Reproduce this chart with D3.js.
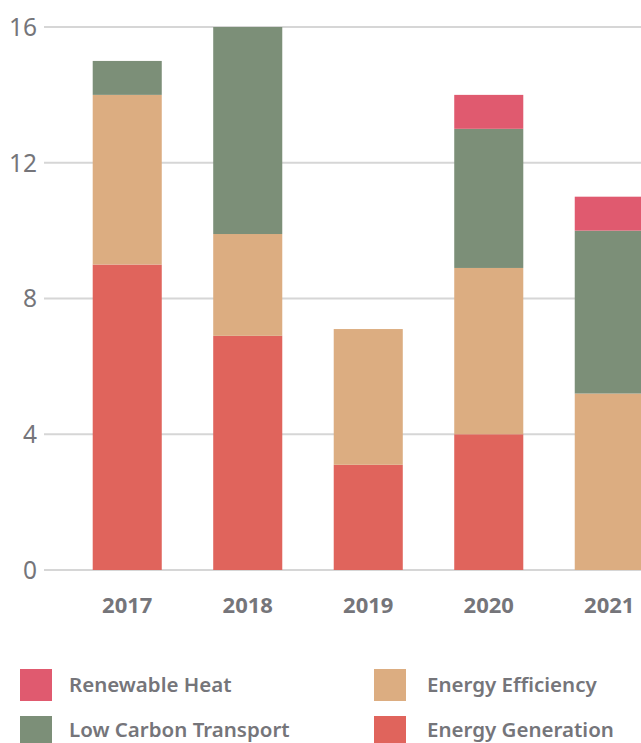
<!DOCTYPE html>
<html><head><meta charset="utf-8">
<script src="https://cdn.jsdelivr.net/npm/d3@7"></script>
<style>html,body{margin:0;padding:0;background:#fff;overflow:hidden}</style>
</head><body>
<svg id="c" width="641" height="743"></svg>
<script>
const years = ["2017","2018","2019","2020","2021"];
const energyGeneration = [9, 6.9, 3.1, 4, 0];
const energyEfficiency = [5, 3, 4, 4.9, 5.2];
const lowCarbonTransport = [1, 6.1, 0, 4.1, 4.8];
const renewableHeat = [0, 0, 0, 1, 1];
const yTicks = [0, 4, 8, 12, 16];
const seriesNames = ["Energy Generation","Energy Efficiency","Low Carbon Transport","Renewable Heat"];
const seriesColors = ["#e0645c","#dcad81","#7c8f78","#e05a6f"];
const legendOrder = ["Renewable Heat","Energy Efficiency","Low Carbon Transport","Energy Generation"];

const rows = years.map((y,i)=>({year:y,
  "Energy Generation":energyGeneration[i],
  "Energy Efficiency":energyEfficiency[i],
  "Low Carbon Transport":lowCarbonTransport[i],
  "Renewable Heat":renewableHeat[i]}));
const stack = d3.stack().keys(seriesNames)(rows);
const color = d3.scaleOrdinal().domain(seriesNames).range(seriesColors);

const svg = d3.select("#c");
const font = "'Noto Sans', sans-serif";
const gray = "#75757a";

const y = d3.scaleLinear().domain([0,16]).range([570,27]);
const x = d3.scaleBand().domain(years).range([44.5,692]).paddingInner(0.427).paddingOuter(0.4);

// grid
svg.append("g").selectAll("line").data(yTicks).join("line")
  .attr("x1",44).attr("x2",641).attr("y1",d=>y(d)).attr("y2",d=>y(d))
  .attr("stroke","#d6d6d6").attr("stroke-width",2);
svg.append("g").selectAll("text").data(yTicks).join("text")
  .attr("x",37).attr("y",d=>y(d)).attr("dy","0.36em").attr("text-anchor","end")
  .attr("font-family",font).attr("font-size",24.5).attr("fill",gray).text(d=>d);

// bars
svg.append("g").selectAll("g").data(stack).join("g").attr("fill",d=>color(d.key))
  .selectAll("rect").data(d=>d).join("rect")
  .attr("x",d=>x(d.data.year)).attr("width",x.bandwidth())
  .attr("y",d=>y(d[1])).attr("height",d=>y(d[0])-y(d[1]));

// x labels
svg.append("g").selectAll("text").data(years).join("text")
  .attr("x",d=>x(d)+x.bandwidth()/2).attr("y",613).attr("text-anchor","middle")
  .attr("font-family",font).attr("font-weight",700).attr("font-size",22).attr("fill",gray).text(d=>d);

// legend
const lg = svg.append("g").selectAll("g").data(legendOrder).join("g")
  .attr("transform",(d,i)=>`translate(${i%2===0?20:374},${669+Math.floor(i/2)*47})`);
lg.append("rect").attr("width",32).attr("height",32).attr("fill",d=>color(d));
lg.append("text").attr("x",(d,i)=>i%2===0?49:53).attr("y",(d,i)=>i<2?23:21).attr("font-family",font).attr("font-weight",600)
  .attr("font-size",20.5).attr("fill",gray).text(d=>d);
</script>
</body></html>
